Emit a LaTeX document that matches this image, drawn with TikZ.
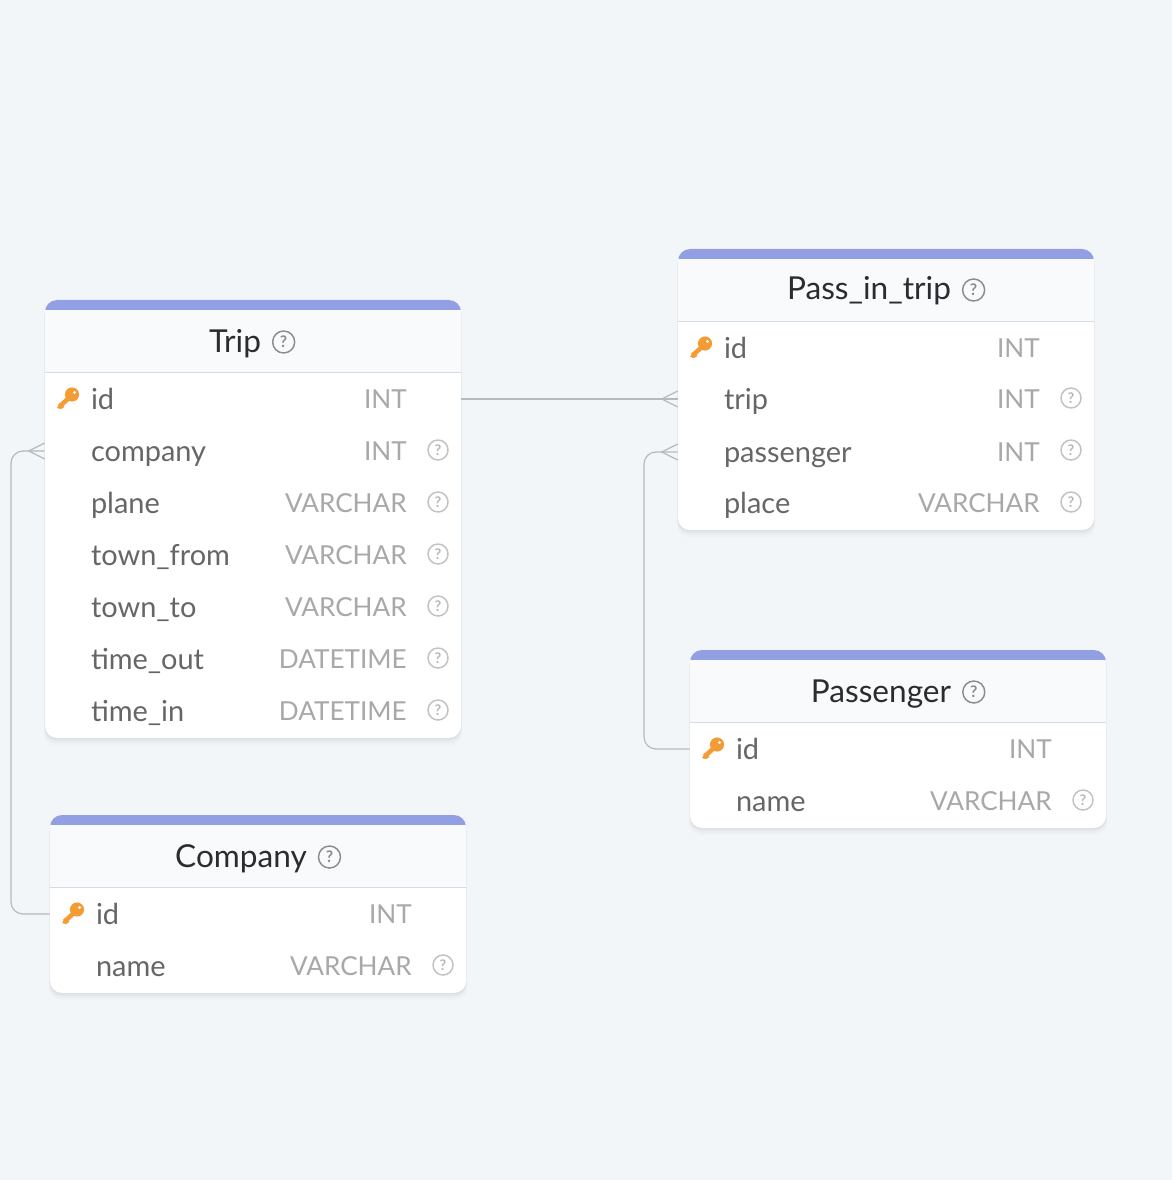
\documentclass[tikz,border=0pt]{standalone}
\usepackage{fontspec}
\setmainfont{Lato}
\definecolor{pagebg}{HTML}{F3F6F9}
\definecolor{barblue}{HTML}{939FE3}
\definecolor{headbg}{HTML}{F9FAFC}
\definecolor{sepline}{HTML}{D3DBE6}
\definecolor{titletext}{HTML}{2A2D30}
\definecolor{nametext}{HTML}{666666}
\definecolor{typetext}{HTML}{A8A8A8}
\definecolor{keyorange}{HTML}{F49B33}
\definecolor{linkgray}{HTML}{B5BABF}
\usetikzlibrary{positioning,shadows}
\tikzset{
    card/.style={fill=white, rounded corners=9pt, minimum width=312pt, inner sep=0pt,
        general shadow={fill=black, opacity=.012, shadow yshift=-5pt, shadow scale=1.006},
        general shadow={fill=black, opacity=.02, shadow yshift=-3.5pt, shadow scale=1.004},
        general shadow={fill=black, opacity=.03, shadow yshift=-2pt, shadow scale=1.002},
        general shadow={fill=black, opacity=.04, shadow yshift=-.8pt}},
    field/.style={text=nametext, font=\fontsize{21.7}{26}\selectfont, text width=243pt, inner xsep=34.5pt,
        inner ysep=0pt, align=left, text height=18pt, text depth=3pt},
    dtype/.style={text=typetext, font=\fontsize{19.6}{23}\selectfont, anchor=east, inner sep=0pt,
        text height=18pt, text depth=3.5pt},
    title/.style={text=titletext, font=\fontsize{23.7}{28}\selectfont, inner sep=0pt,
        text height=19pt, text depth=4pt},
    helphead/.style={draw=gray!90, text=gray!90, circle, line width=1.1pt, minimum size=16.5pt, inner sep=0pt,
        font=\bfseries\fontsize{12}{12}\selectfont},
    helprow/.style={draw=typetext!70, text=typetext!80, circle, line width=1.1pt, minimum size=15pt, inner sep=0pt,
        font=\bfseries\fontsize{11}{11}\selectfont},
    link/.style={draw=linkgray, line width=.9pt, rounded corners=9pt},
    keyicon/.pic={
        \fill[keyorange] (4,-4.5) circle (5.3pt);
        \draw[keyorange, line width=3.4pt] (2,-2) -- (-8.5,7.5);
        \fill[keyorange] (-8,4) -- (-3.5,8) -- (-7,10) -- (-11,9) -- cycle;
        \fill[white] (6.5,-6.5) circle (1.2pt);
    },
    crowfoot/.pic={
        \draw[linkgray, line width=.9pt] (0,-8) -- (-16,0) -- (0,8);
    }
}
\begin{document}
\begin{tikzpicture}[x=.75pt, y=-.75pt]
    \fill[pagebg] (0,0) rectangle (1172,1180);

    % Trip
    \node[card, minimum height=328.5pt] (trip) at (253,519) {};
    \fill[barblue, rounded corners=9pt] (45,325) -- (45,300) -- (461,300) -- (461,325) [sharp corners] -- cycle;
    \fill[headbg] (45,310) rectangle (461,372);
    \draw[sepline, line width=1.2pt] (45,372.5) -- (461,372.5);
    \node[title] (triptitle) at (235,342) {Trip};
    \node[helphead, right=8pt of triptitle] (triphelp) {?};
    \pic at (68,399) {keyicon};
    \node[field] (tid) at (253,399) {id};
    \node[dtype] (tidt) at (407,399) {INT};
    \node[field] (tcomp) at (253,451) {company};
    \node[dtype] (tcompt) at (407,451) {INT};
    \node[helprow] (tcomph) at (438,450) {?};
    \node[field] (tplane) at (253,503) {plane};
    \node[dtype] (tplanet) at (407,503) {VARCHAR};
    \node[helprow] (tplaneh) at (438,502) {?};
    \node[field] (tfrom) at (253,555) {town\_from};
    \node[dtype] (tfromt) at (407,555) {VARCHAR};
    \node[helprow] (tfromh) at (438,554) {?};
    \node[field] (tto) at (253,607) {town\_to};
    \node[dtype] (ttot) at (407,607) {VARCHAR};
    \node[helprow] (ttoh) at (438,606) {?};
    \node[field] (tout) at (253,659) {time\_out};
    \node[dtype] (toutt) at (407,659) {DATETIME};
    \node[helprow] (touth) at (438,658) {?};
    \node[field] (tin) at (253,711) {time\_in};
    \node[dtype] (tint) at (407,711) {DATETIME};
    \node[helprow] (tinh) at (438,710) {?};

    % Company
    \node[card, minimum height=133.5pt] (company) at (258,904) {};
    \fill[barblue, rounded corners=9pt] (50,840) -- (50,815) -- (466,815) -- (466,840) [sharp corners] -- cycle;
    \fill[headbg] (50,825) rectangle (466,887);
    \draw[sepline, line width=1.2pt] (50,887.5) -- (466,887.5);
    \node[title] (comptitle) at (241,857) {Company};
    \node[helphead, right=8pt of comptitle] (comphelp) {?};
    \pic at (73,914) {keyicon};
    \node[field] (cid) at (258,914) {id};
    \node[dtype] (cidt) at (412,914) {INT};
    \node[field] (cname) at (258,966) {name};
    \node[dtype] (cnamet) at (412,966) {VARCHAR};
    \node[helprow] (cnameh) at (443,965) {?};

    % Pass_in_trip
    \node[card, minimum height=211pt] (pass) at (886,389.5) {};
    \fill[barblue, rounded corners=9pt] (678,274) -- (678,249) -- (1094,249) -- (1094,274) [sharp corners] -- cycle;
    \fill[headbg] (678,259) rectangle (1094,321);
    \draw[sepline, line width=1.2pt] (678,321.5) -- (1094,321.5);
    \node[title] (passtitle) at (869,290) {Pass\_in\_trip};
    \node[helphead, right=8pt of passtitle] (passhelp) {?};
    \pic at (701,348) {keyicon};
    \node[field] (pid) at (886,348) {id};
    \node[dtype] (pidt) at (1040,348) {INT};
    \node[field] (ptrip) at (886,399) {trip};
    \node[dtype] (ptript) at (1040,399) {INT};
    \node[helprow] (ptriph) at (1071,398) {?};
    \node[field] (ppass) at (886,452) {passenger};
    \node[dtype] (ppasst) at (1040,452) {INT};
    \node[helprow] (ppassh) at (1071,450) {?};
    \node[field] (pplace) at (886,503) {place};
    \node[dtype] (pplacet) at (1040,503) {VARCHAR};
    \node[helprow] (pplaceh) at (1071,502) {?};

    % Passenger
    \node[card, minimum height=133.5pt] (passenger) at (898,739) {};
    \fill[barblue, rounded corners=9pt] (690,675) -- (690,650) -- (1106,650) -- (1106,675) [sharp corners] -- cycle;
    \fill[headbg] (690,660) rectangle (1106,722);
    \draw[sepline, line width=1.2pt] (690,722.5) -- (1106,722.5);
    \node[title] (psgtitle) at (881,692) {Passenger};
    \node[helphead, right=8pt of psgtitle] (psghelp) {?};
    \pic at (713,749) {keyicon};
    \node[field] (sid) at (898,749) {id};
    \node[dtype] (sidt) at (1052,749) {INT};
    \node[field] (sname) at (898,801) {name};
    \node[dtype] (snamet) at (1052,801) {VARCHAR};
    \node[helprow] (snameh) at (1083,800) {?};

    % Relations
    \coordinate (leftbend) at (11,680);
    \coordinate (midbend) at (644,600);
    \draw[link] (tid.east) -- (ptrip.west);
    \pic at (ptrip.west) {crowfoot};
    \draw[link] (cid.west) -| (leftbend) |- (tcomp.west);
    \pic at (tcomp.west) {crowfoot};
    \draw[link] (sid.west) -| (midbend) |- (ppass.west);
    \pic at (ppass.west) {crowfoot};
\end{tikzpicture}
\end{document}
